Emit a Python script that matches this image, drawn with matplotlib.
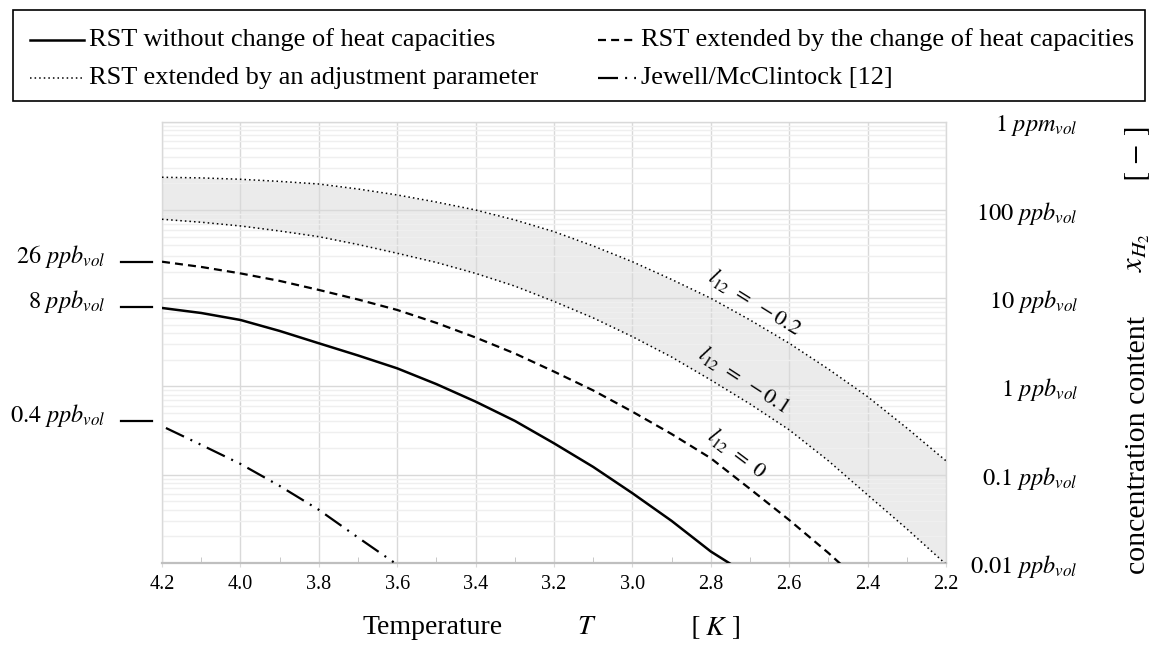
import matplotlib
matplotlib.use("Agg")
import matplotlib.pyplot as plt
from matplotlib.transforms import blended_transform_factory
from matplotlib.lines import Line2D
from matplotlib.patches import Rectangle
from matplotlib.ticker import FixedLocator, LogLocator, NullFormatter

# ---------------- data (concentration in ppb_vol, temperature in K) -------------
T_rst = [4.2, 4.1, 4.0, 3.9, 3.8, 3.7, 3.6, 3.5, 3.4, 3.3, 3.2, 3.1, 3.0, 2.9, 2.8, 2.74]
x_rst = [7.74, 6.79, 5.66, 4.25, 3.08, 2.24, 1.60, 1.06, 0.671, 0.406, 0.226, 0.122,
         0.0614, 0.0298, 0.0134, 0.0091]

T_cp = [4.2, 4.1, 4.0, 3.9, 3.8, 3.7, 3.6, 3.5, 3.4, 3.3, 3.2, 3.1, 3.0, 2.9, 2.8, 2.7,
        2.6, 2.5, 2.46]
x_cp = [25.9, 22.6, 19.1, 15.7, 12.4, 9.66, 7.35, 5.24, 3.58, 2.36, 1.47, 0.899, 0.516,
        0.288, 0.153, 0.0687, 0.0305, 0.0129, 0.0089]

T_adj = [4.2, 4.1, 4.0, 3.9, 3.8, 3.7, 3.6, 3.5, 3.4, 3.3, 3.2, 3.1, 3.0, 2.9, 2.8, 2.7,
         2.6, 2.5, 2.4, 2.3, 2.2]
x_adj_m02 = [235, 231, 223, 211, 197, 173, 148, 123, 100, 77.1, 56.8, 39.1, 25.9, 16.3,
             9.98, 5.66, 3.08, 1.57, 0.764, 0.337, 0.143]
x_adj_m01 = [78.5, 72.6, 65.9, 57.8, 49.8, 40.6, 32.3, 25.4, 19.1, 13.7, 9.18, 5.97, 3.66,
             2.15, 1.18, 0.631, 0.321, 0.143, 0.0587, 0.0242, 0.0096]

T_jm = [4.19, 4.1, 4.0, 3.9, 3.8, 3.7, 3.6]
x_jm = [0.337, 0.217, 0.132, 0.0743, 0.0398, 0.0193, 0.0095]

x_ticks = [4.2, 4.0, 3.8, 3.6, 3.4, 3.2, 3.0, 2.8, 2.6, 2.4, 2.2]
x_tick_labels = ["4.2", "4.0", "3.8", "3.6", "3.4", "3.2", "3.0", "2.8", "2.6", "2.4", "2.2"]
y_ticks = [0.01, 0.1, 1, 10, 100, 1000]
y_tick_labels = [r"$0.01\ ppb_{vol}$", r"$0.1\ ppb_{vol}$", r"$1\ ppb_{vol}$",
                 r"$10\ ppb_{vol}$", r"$100\ ppb_{vol}$", r"$1\ ppm_{vol}$"]
start_marks = [26, 8, 0.4]
start_mark_labels = [r"$26\ ppb_{vol}$", r"$8\ ppb_{vol}$", r"$0.4\ ppb_{vol}$"]

legend_labels = ["RST without change of heat capacities",
                 "RST extended by the change of heat capacities",
                 "RST extended by an adjustment parameter",
                 "Jewell/McClintock [12]"]

# ---------------- style ---------------------------------------------------------
plt.rcParams["font.family"] = ["Liberation Serif", "DejaVu Serif"]
plt.rcParams["mathtext.fontset"] = "stix"

W, H = 1161, 650
fig = plt.figure(figsize=(W / 100, H / 100), dpi=100)
ax = fig.add_axes([162 / W, 1 - 562.7 / H, (946 - 162) / W, (562.7 - 121.8) / H])

ls_solid = dict(color="black", lw=1.8, linestyle="-")
ls_dash = dict(color="black", lw=1.6, linestyle=(0, (3.6, 2.3)))
ls_dot = dict(color="black", lw=1.1, linestyle=(0, (1, 2)))
ls_dashdot = dict(color="black", lw=1.6, linestyle=(0, (9, 3.2, 0.9, 3.2, 0.9, 3.2)))

ax.fill_between(T_adj, x_adj_m01, x_adj_m02, color="#ebebeb", lw=0, zorder=0.3)
ax.plot(T_rst, x_rst, **ls_solid, zorder=3)
ax.plot(T_cp, x_cp, **ls_dash, zorder=3)
ax.plot(T_adj, x_adj_m02, **ls_dot, zorder=3)
ax.plot(T_adj, x_adj_m01, **ls_dot, zorder=3)
ax.plot(T_jm, x_jm, **ls_dashdot, zorder=3)

ax.set_yscale("log")
ax.set_ylim(0.01, 1000)
ax.set_xlim(4.2, 2.2)
ax.set_axisbelow(True)

ax.xaxis.set_major_locator(FixedLocator(x_ticks))
ax.set_xticklabels(x_tick_labels)
ax.xaxis.set_minor_locator(FixedLocator([4.1, 3.9, 3.7, 3.5, 3.3, 3.1, 2.9, 2.7, 2.5, 2.3]))
ax.yaxis.set_major_locator(FixedLocator(y_ticks))
ax.yaxis.set_minor_locator(LogLocator(base=10, subs=range(2, 10)))
ax.yaxis.set_minor_formatter(NullFormatter())

ax.grid(True, which="major", axis="both", color="#d9d9d9", lw=1.0)
ax.grid(True, which="minor", axis="y", color="#efefef", lw=1.0)

ax.tick_params(axis="x", which="major", direction="out", length=3, color="#d9d9d9",
               labelsize=14.5, pad=6)
ax.tick_params(axis="x", which="minor", direction="in", length=4, color="#bfbfbf")
ax.tick_params(axis="y", which="both", left=False, right=False, labelleft=False,
               labelright=True, length=0, pad=95)
ax.set_yticklabels(y_tick_labels, fontsize=17.5)
for lab in ax.get_yticklabels():
    lab.set_horizontalalignment("right")

for name, sp in ax.spines.items():
    sp.set_color("#d9d9d9")
    sp.set_linewidth(1.0)
ax.spines["bottom"].set_color("#bfbfbf")
ax.spines["bottom"].set_linewidth(1.6)

# curve labels
ax.text(2.687, 9.06, r"$l_{12}\ =\ -0.2$", rotation=-32, rotation_mode="anchor",
        ha="center", va="center", fontsize=16)
ax.text(2.715, 1.18, r"$l_{12}\ =\ -0.1$", rotation=-33, rotation_mode="anchor",
        ha="center", va="center", fontsize=16)
ax.text(2.733, 0.176, r"$l_{12}\ =\ 0$", rotation=-37, rotation_mode="anchor",
        ha="center", va="center", fontsize=16)

# start value marks left of the axes
trans = blended_transform_factory(fig.transFigure, ax.transData)
for v, lab in zip(start_marks, start_mark_labels):
    fig.add_artist(Line2D([121 / W, 152 / W], [v, v], transform=trans, color="black",
                          lw=1.6, clip_on=False))
    ax.annotate(lab, xy=(105 / W, v), xycoords=trans, xytext=(0, 4),
                textcoords="offset points", ha="right", va="center", fontsize=17.5,
                annotation_clip=False)

# axis titles
fy = 1 - 628 / H
fig.text(433 / W, fy, "Temperature", ha="center", va="center", fontsize=20)
fig.text(587 / W, fy, r"$T$", ha="center", va="center", fontsize=20)
fig.text(715 / W, fy, r"$[\ K\ ]$", ha="center", va="center", fontsize=20)

fx = 1138 / W
fig.text(fx, 1 - 445 / H, "concentration content", rotation=90, ha="center",
         va="center", fontsize=21.5)
fig.text(fx, 1 - 253 / H, r"$x_{H_2}$", rotation=90, ha="center", va="center",
         fontsize=22)
fig.text(fx, 1 - 154 / H, r"$[\,-\,]$", rotation=90, ha="center", va="center",
         fontsize=21.5)

# legend box (manual)
fig.add_artist(Rectangle((13 / W, 1 - 101 / H), (1145 - 13) / W, 91 / H, fill=False,
                         ec="black", lw=1.2, transform=fig.transFigure))
styles = [ls_solid, ls_dash, ls_dot, ls_dashdot]
handles = [(30, 84, 89, 40), (598, 636, 641, 40), (30, 84, 89, 78), (598, 636, 641, 78)]
for (h0, h1, tx, py), st, lab in zip(handles, styles, legend_labels):
    fig.add_artist(Line2D([h0 / W, h1 / W], [1 - py / H, 1 - py / H],
                          transform=fig.transFigure, **st))
    fig.text(tx / W, 1 - py / H, lab, ha="left", va="center", fontsize=19)

fig.savefig("out.png", dpi=100)
